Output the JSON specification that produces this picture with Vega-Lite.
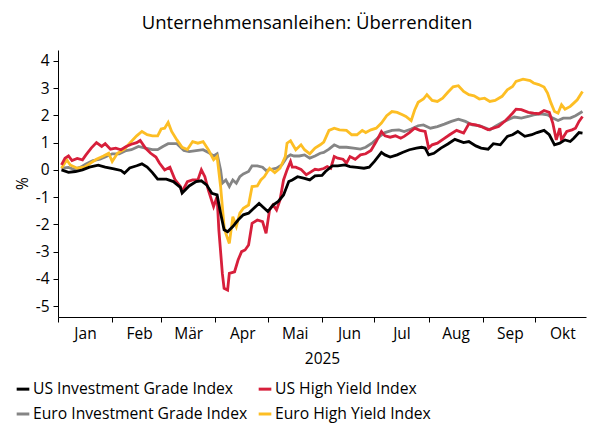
{
  "$schema": "https://vega.github.io/schema/vega-lite/v6.json",
  "width": 528,
  "height": 267,
  "autosize": {"type": "none"},
  "padding": {"left": 58, "top": 50, "right": 4, "bottom": 106},
  "background": "white",
  "title": {"text": "Unternehmensanleihen: Überrenditen", "font": "Open Sans", "fontSize": 18.5, "fontWeight": "normal", "color": "#000", "anchor": "middle", "frame": "group", "dx": -15, "offset": 18},
  "config": {
    "view": {"stroke": null},
    "font": "Open Sans",
    "axis": {"domainColor": "#000", "tickColor": "#000", "labelColor": "#000", "titleColor": "#000", "grid": false, "labelFont": "Open Sans", "titleFont": "Open Sans", "labelFontSize": 15.5, "titleFontSize": 15.5, "titleFontWeight": "normal", "domainWidth": 1, "tickWidth": 1, "tickSize": 5},
    "legend": {"labelFont": "Open Sans", "labelFontSize": 15.7, "labelColor": "#000", "labelLimit": 400}
  },
  "data": {"values": [
    {"s":"US Investment Grade Index","d":"2025-01-03","v":0.0},{"s":"US Investment Grade Index","d":"2025-01-07","v":-0.09},{"s":"US Investment Grade Index","d":"2025-01-11","v":-0.06},{"s":"US Investment Grade Index","d":"2025-01-15","v":0.0},{"s":"US Investment Grade Index","d":"2025-01-19","v":0.1},{"s":"US Investment Grade Index","d":"2025-01-24","v":0.17},{"s":"US Investment Grade Index","d":"2025-01-28","v":0.1},{"s":"US Investment Grade Index","d":"2025-02-02","v":0.04},{"s":"US Investment Grade Index","d":"2025-02-06","v":-0.02},{"s":"US Investment Grade Index","d":"2025-02-08","v":-0.12},{"s":"US Investment Grade Index","d":"2025-02-11","v":0.07},{"s":"US Investment Grade Index","d":"2025-02-15","v":0.15},{"s":"US Investment Grade Index","d":"2025-02-18","v":0.22},{"s":"US Investment Grade Index","d":"2025-02-21","v":0.1},{"s":"US Investment Grade Index","d":"2025-02-24","v":-0.1},{"s":"US Investment Grade Index","d":"2025-02-27","v":-0.34},{"s":"US Investment Grade Index","d":"2025-03-04","v":-0.34},{"s":"US Investment Grade Index","d":"2025-03-08","v":-0.43},{"s":"US Investment Grade Index","d":"2025-03-12","v":-0.64},{"s":"US Investment Grade Index","d":"2025-03-13","v":-0.85},{"s":"US Investment Grade Index","d":"2025-03-17","v":-0.59},{"s":"US Investment Grade Index","d":"2025-03-21","v":-0.43},{"s":"US Investment Grade Index","d":"2025-03-24","v":-0.4},{"s":"US Investment Grade Index","d":"2025-03-27","v":-0.55},{"s":"US Investment Grade Index","d":"2025-03-30","v":-0.86},{"s":"US Investment Grade Index","d":"2025-04-02","v":-0.92},{"s":"US Investment Grade Index","d":"2025-04-04","v":-1.59},{"s":"US Investment Grade Index","d":"2025-04-06","v":-2.2},{"s":"US Investment Grade Index","d":"2025-04-08","v":-2.27},{"s":"US Investment Grade Index","d":"2025-04-11","v":-2.08},{"s":"US Investment Grade Index","d":"2025-04-14","v":-1.84},{"s":"US Investment Grade Index","d":"2025-04-17","v":-1.65},{"s":"US Investment Grade Index","d":"2025-04-20","v":-1.59},{"s":"US Investment Grade Index","d":"2025-04-23","v":-1.41},{"s":"US Investment Grade Index","d":"2025-04-26","v":-1.23},{"s":"US Investment Grade Index","d":"2025-04-29","v":-1.41},{"s":"US Investment Grade Index","d":"2025-05-01","v":-1.53},{"s":"US Investment Grade Index","d":"2025-05-04","v":-1.29},{"s":"US Investment Grade Index","d":"2025-05-07","v":-1.16},{"s":"US Investment Grade Index","d":"2025-05-10","v":-0.92},{"s":"US Investment Grade Index","d":"2025-05-13","v":-0.43},{"s":"US Investment Grade Index","d":"2025-05-15","v":-0.37},{"s":"US Investment Grade Index","d":"2025-05-18","v":-0.25},{"s":"US Investment Grade Index","d":"2025-05-22","v":-0.31},{"s":"US Investment Grade Index","d":"2025-05-25","v":-0.37},{"s":"US Investment Grade Index","d":"2025-05-28","v":-0.22},{"s":"US Investment Grade Index","d":"2025-06-01","v":-0.2},{"s":"US Investment Grade Index","d":"2025-06-03","v":-0.06},{"s":"US Investment Grade Index","d":"2025-06-07","v":0.15},{"s":"US Investment Grade Index","d":"2025-06-10","v":0.15},{"s":"US Investment Grade Index","d":"2025-06-14","v":0.18},{"s":"US Investment Grade Index","d":"2025-06-17","v":0.12},{"s":"US Investment Grade Index","d":"2025-06-21","v":0.09},{"s":"US Investment Grade Index","d":"2025-06-25","v":0.06},{"s":"US Investment Grade Index","d":"2025-06-28","v":0.1},{"s":"US Investment Grade Index","d":"2025-07-01","v":0.31},{"s":"US Investment Grade Index","d":"2025-07-05","v":0.64},{"s":"US Investment Grade Index","d":"2025-07-07","v":0.55},{"s":"US Investment Grade Index","d":"2025-07-10","v":0.47},{"s":"US Investment Grade Index","d":"2025-07-14","v":0.55},{"s":"US Investment Grade Index","d":"2025-07-17","v":0.64},{"s":"US Investment Grade Index","d":"2025-07-21","v":0.74},{"s":"US Investment Grade Index","d":"2025-07-25","v":0.8},{"s":"US Investment Grade Index","d":"2025-07-28","v":0.83},{"s":"US Investment Grade Index","d":"2025-07-30","v":0.8},{"s":"US Investment Grade Index","d":"2025-08-01","v":0.55},{"s":"US Investment Grade Index","d":"2025-08-04","v":0.61},{"s":"US Investment Grade Index","d":"2025-08-08","v":0.8},{"s":"US Investment Grade Index","d":"2025-08-12","v":0.95},{"s":"US Investment Grade Index","d":"2025-08-16","v":1.12},{"s":"US Investment Grade Index","d":"2025-08-21","v":1.0},{"s":"US Investment Grade Index","d":"2025-08-24","v":1.04},{"s":"US Investment Grade Index","d":"2025-08-28","v":0.88},{"s":"US Investment Grade Index","d":"2025-08-31","v":0.8},{"s":"US Investment Grade Index","d":"2025-09-04","v":0.76},{"s":"US Investment Grade Index","d":"2025-09-07","v":0.96},{"s":"US Investment Grade Index","d":"2025-09-11","v":0.92},{"s":"US Investment Grade Index","d":"2025-09-15","v":1.23},{"s":"US Investment Grade Index","d":"2025-09-18","v":1.29},{"s":"US Investment Grade Index","d":"2025-09-21","v":1.41},{"s":"US Investment Grade Index","d":"2025-09-25","v":1.23},{"s":"US Investment Grade Index","d":"2025-09-29","v":1.29},{"s":"US Investment Grade Index","d":"2025-10-02","v":1.37},{"s":"US Investment Grade Index","d":"2025-10-06","v":1.45},{"s":"US Investment Grade Index","d":"2025-10-09","v":1.29},{"s":"US Investment Grade Index","d":"2025-10-12","v":0.92},{"s":"US Investment Grade Index","d":"2025-10-15","v":0.98},{"s":"US Investment Grade Index","d":"2025-10-18","v":1.1},{"s":"US Investment Grade Index","d":"2025-10-21","v":1.04},{"s":"US Investment Grade Index","d":"2025-10-23","v":1.16},{"s":"US Investment Grade Index","d":"2025-10-26","v":1.37},{"s":"US Investment Grade Index","d":"2025-10-28","v":1.35},

    {"s":"US High Yield Index","d":"2025-01-03","v":0.18},{"s":"US High Yield Index","d":"2025-01-05","v":0.43},{"s":"US High Yield Index","d":"2025-01-07","v":0.51},{"s":"US High Yield Index","d":"2025-01-09","v":0.34},{"s":"US High Yield Index","d":"2025-01-12","v":0.42},{"s":"US High Yield Index","d":"2025-01-15","v":0.37},{"s":"US High Yield Index","d":"2025-01-17","v":0.55},{"s":"US High Yield Index","d":"2025-01-20","v":0.8},{"s":"US High Yield Index","d":"2025-01-23","v":1.0},{"s":"US High Yield Index","d":"2025-01-26","v":0.86},{"s":"US High Yield Index","d":"2025-01-28","v":0.96},{"s":"US High Yield Index","d":"2025-01-31","v":0.76},{"s":"US High Yield Index","d":"2025-02-03","v":0.8},{"s":"US High Yield Index","d":"2025-02-06","v":0.74},{"s":"US High Yield Index","d":"2025-02-09","v":0.86},{"s":"US High Yield Index","d":"2025-02-12","v":0.94},{"s":"US High Yield Index","d":"2025-02-15","v":1.0},{"s":"US High Yield Index","d":"2025-02-17","v":1.08},{"s":"US High Yield Index","d":"2025-02-20","v":0.8},{"s":"US High Yield Index","d":"2025-02-23","v":0.61},{"s":"US High Yield Index","d":"2025-02-26","v":0.47},{"s":"US High Yield Index","d":"2025-02-28","v":0.25},{"s":"US High Yield Index","d":"2025-03-03","v":0.0},{"s":"US High Yield Index","d":"2025-03-06","v":0.1},{"s":"US High Yield Index","d":"2025-03-09","v":-0.37},{"s":"US High Yield Index","d":"2025-03-12","v":-0.61},{"s":"US High Yield Index","d":"2025-03-13","v":-0.8},{"s":"US High Yield Index","d":"2025-03-16","v":-0.43},{"s":"US High Yield Index","d":"2025-03-19","v":-0.37},{"s":"US High Yield Index","d":"2025-03-22","v":-0.37},{"s":"US High Yield Index","d":"2025-03-24","v":0.0},{"s":"US High Yield Index","d":"2025-03-26","v":-0.25},{"s":"US High Yield Index","d":"2025-03-28","v":-0.74},{"s":"US High Yield Index","d":"2025-03-31","v":-1.35},{"s":"US High Yield Index","d":"2025-04-02","v":-0.98},{"s":"US High Yield Index","d":"2025-04-03","v":-2.2},{"s":"US High Yield Index","d":"2025-04-05","v":-3.8},{"s":"US High Yield Index","d":"2025-04-06","v":-4.35},{"s":"US High Yield Index","d":"2025-04-08","v":-4.41},{"s":"US High Yield Index","d":"2025-04-09","v":-3.8},{"s":"US High Yield Index","d":"2025-04-12","v":-3.74},{"s":"US High Yield Index","d":"2025-04-14","v":-3.31},{"s":"US High Yield Index","d":"2025-04-16","v":-3.0},{"s":"US High Yield Index","d":"2025-04-18","v":-2.94},{"s":"US High Yield Index","d":"2025-04-20","v":-2.76},{"s":"US High Yield Index","d":"2025-04-22","v":-1.96},{"s":"US High Yield Index","d":"2025-04-25","v":-1.84},{"s":"US High Yield Index","d":"2025-04-28","v":-1.9},{"s":"US High Yield Index","d":"2025-04-30","v":-2.33},{"s":"US High Yield Index","d":"2025-05-02","v":-1.47},{"s":"US High Yield Index","d":"2025-05-04","v":-1.29},{"s":"US High Yield Index","d":"2025-05-06","v":-1.47},{"s":"US High Yield Index","d":"2025-05-08","v":-1.1},{"s":"US High Yield Index","d":"2025-05-10","v":-0.37},{"s":"US High Yield Index","d":"2025-05-12","v":0.0},{"s":"US High Yield Index","d":"2025-05-14","v":0.31},{"s":"US High Yield Index","d":"2025-05-15","v":0.1},{"s":"US High Yield Index","d":"2025-05-17","v":0.1},{"s":"US High Yield Index","d":"2025-05-20","v":0.02},{"s":"US High Yield Index","d":"2025-05-23","v":-0.18},{"s":"US High Yield Index","d":"2025-05-25","v":-0.1},{"s":"US High Yield Index","d":"2025-05-28","v":0.02},{"s":"US High Yield Index","d":"2025-05-30","v":0.0},{"s":"US High Yield Index","d":"2025-06-02","v":0.05},{"s":"US High Yield Index","d":"2025-06-04","v":0.12},{"s":"US High Yield Index","d":"2025-06-06","v":0.06},{"s":"US High Yield Index","d":"2025-06-08","v":0.49},{"s":"US High Yield Index","d":"2025-06-10","v":0.43},{"s":"US High Yield Index","d":"2025-06-13","v":0.39},{"s":"US High Yield Index","d":"2025-06-15","v":0.25},{"s":"US High Yield Index","d":"2025-06-17","v":0.49},{"s":"US High Yield Index","d":"2025-06-20","v":0.39},{"s":"US High Yield Index","d":"2025-06-23","v":0.55},{"s":"US High Yield Index","d":"2025-06-26","v":0.59},{"s":"US High Yield Index","d":"2025-06-29","v":0.71},{"s":"US High Yield Index","d":"2025-07-02","v":1.04},{"s":"US High Yield Index","d":"2025-07-05","v":1.41},{"s":"US High Yield Index","d":"2025-07-07","v":1.25},{"s":"US High Yield Index","d":"2025-07-10","v":1.2},{"s":"US High Yield Index","d":"2025-07-13","v":1.25},{"s":"US High Yield Index","d":"2025-07-16","v":1.16},{"s":"US High Yield Index","d":"2025-07-18","v":1.23},{"s":"US High Yield Index","d":"2025-07-21","v":1.37},{"s":"US High Yield Index","d":"2025-07-24","v":1.53},{"s":"US High Yield Index","d":"2025-07-27","v":1.45},{"s":"US High Yield Index","d":"2025-07-30","v":1.41},{"s":"US High Yield Index","d":"2025-08-01","v":0.8},{"s":"US High Yield Index","d":"2025-08-03","v":0.92},{"s":"US High Yield Index","d":"2025-08-06","v":0.98},{"s":"US High Yield Index","d":"2025-08-10","v":1.16},{"s":"US High Yield Index","d":"2025-08-13","v":1.29},{"s":"US High Yield Index","d":"2025-08-17","v":1.45},{"s":"US High Yield Index","d":"2025-08-21","v":1.35},{"s":"US High Yield Index","d":"2025-08-24","v":1.69},{"s":"US High Yield Index","d":"2025-08-28","v":1.65},{"s":"US High Yield Index","d":"2025-08-31","v":1.59},{"s":"US High Yield Index","d":"2025-09-04","v":1.47},{"s":"US High Yield Index","d":"2025-09-07","v":1.53},{"s":"US High Yield Index","d":"2025-09-10","v":1.59},{"s":"US High Yield Index","d":"2025-09-14","v":1.81},{"s":"US High Yield Index","d":"2025-09-18","v":2.08},{"s":"US High Yield Index","d":"2025-09-20","v":2.23},{"s":"US High Yield Index","d":"2025-09-23","v":2.21},{"s":"US High Yield Index","d":"2025-09-27","v":2.11},{"s":"US High Yield Index","d":"2025-09-30","v":2.08},{"s":"US High Yield Index","d":"2025-10-03","v":2.06},{"s":"US High Yield Index","d":"2025-10-06","v":2.18},{"s":"US High Yield Index","d":"2025-10-09","v":2.11},{"s":"US High Yield Index","d":"2025-10-11","v":1.72},{"s":"US High Yield Index","d":"2025-10-13","v":1.1},{"s":"US High Yield Index","d":"2025-10-15","v":1.53},{"s":"US High Yield Index","d":"2025-10-16","v":1.1},{"s":"US High Yield Index","d":"2025-10-19","v":1.41},{"s":"US High Yield Index","d":"2025-10-22","v":1.47},{"s":"US High Yield Index","d":"2025-10-24","v":1.53},{"s":"US High Yield Index","d":"2025-10-26","v":1.78},{"s":"US High Yield Index","d":"2025-10-28","v":1.96},

    {"s":"Euro Investment Grade Index","d":"2025-01-03","v":0.06},{"s":"Euro Investment Grade Index","d":"2025-01-07","v":0.09},{"s":"Euro Investment Grade Index","d":"2025-01-10","v":0.02},{"s":"Euro Investment Grade Index","d":"2025-01-14","v":0.1},{"s":"Euro Investment Grade Index","d":"2025-01-17","v":0.22},{"s":"Euro Investment Grade Index","d":"2025-01-21","v":0.34},{"s":"Euro Investment Grade Index","d":"2025-01-25","v":0.39},{"s":"Euro Investment Grade Index","d":"2025-01-28","v":0.47},{"s":"Euro Investment Grade Index","d":"2025-02-01","v":0.59},{"s":"Euro Investment Grade Index","d":"2025-02-05","v":0.59},{"s":"Euro Investment Grade Index","d":"2025-02-09","v":0.71},{"s":"Euro Investment Grade Index","d":"2025-02-12","v":0.74},{"s":"Euro Investment Grade Index","d":"2025-02-16","v":0.86},{"s":"Euro Investment Grade Index","d":"2025-02-20","v":0.8},{"s":"Euro Investment Grade Index","d":"2025-02-24","v":0.74},{"s":"Euro Investment Grade Index","d":"2025-02-27","v":0.74},{"s":"Euro Investment Grade Index","d":"2025-03-02","v":0.86},{"s":"Euro Investment Grade Index","d":"2025-03-05","v":0.96},{"s":"Euro Investment Grade Index","d":"2025-03-10","v":0.96},{"s":"Euro Investment Grade Index","d":"2025-03-14","v":0.71},{"s":"Euro Investment Grade Index","d":"2025-03-17","v":0.67},{"s":"Euro Investment Grade Index","d":"2025-03-21","v":0.71},{"s":"Euro Investment Grade Index","d":"2025-03-25","v":0.74},{"s":"Euro Investment Grade Index","d":"2025-03-28","v":0.64},{"s":"Euro Investment Grade Index","d":"2025-03-31","v":0.51},{"s":"Euro Investment Grade Index","d":"2025-04-02","v":0.59},{"s":"Euro Investment Grade Index","d":"2025-04-04","v":0.0},{"s":"Euro Investment Grade Index","d":"2025-04-05","v":-0.49},{"s":"Euro Investment Grade Index","d":"2025-04-07","v":-0.37},{"s":"Euro Investment Grade Index","d":"2025-04-09","v":-0.61},{"s":"Euro Investment Grade Index","d":"2025-04-11","v":-0.37},{"s":"Euro Investment Grade Index","d":"2025-04-13","v":-0.49},{"s":"Euro Investment Grade Index","d":"2025-04-15","v":-0.25},{"s":"Euro Investment Grade Index","d":"2025-04-17","v":-0.15},{"s":"Euro Investment Grade Index","d":"2025-04-20","v":-0.06},{"s":"Euro Investment Grade Index","d":"2025-04-22","v":0.15},{"s":"Euro Investment Grade Index","d":"2025-04-25","v":0.15},{"s":"Euro Investment Grade Index","d":"2025-04-28","v":0.1},{"s":"Euro Investment Grade Index","d":"2025-04-30","v":-0.02},{"s":"Euro Investment Grade Index","d":"2025-05-03","v":0.02},{"s":"Euro Investment Grade Index","d":"2025-05-06","v":0.06},{"s":"Euro Investment Grade Index","d":"2025-05-09","v":0.18},{"s":"Euro Investment Grade Index","d":"2025-05-12","v":0.47},{"s":"Euro Investment Grade Index","d":"2025-05-14","v":0.55},{"s":"Euro Investment Grade Index","d":"2025-05-16","v":0.51},{"s":"Euro Investment Grade Index","d":"2025-05-19","v":0.51},{"s":"Euro Investment Grade Index","d":"2025-05-22","v":0.55},{"s":"Euro Investment Grade Index","d":"2025-05-25","v":0.43},{"s":"Euro Investment Grade Index","d":"2025-05-28","v":0.51},{"s":"Euro Investment Grade Index","d":"2025-05-31","v":0.61},{"s":"Euro Investment Grade Index","d":"2025-06-02","v":0.64},{"s":"Euro Investment Grade Index","d":"2025-06-05","v":0.76},{"s":"Euro Investment Grade Index","d":"2025-06-08","v":0.92},{"s":"Euro Investment Grade Index","d":"2025-06-11","v":0.83},{"s":"Euro Investment Grade Index","d":"2025-06-15","v":0.83},{"s":"Euro Investment Grade Index","d":"2025-06-19","v":0.8},{"s":"Euro Investment Grade Index","d":"2025-06-23","v":0.76},{"s":"Euro Investment Grade Index","d":"2025-06-26","v":0.83},{"s":"Euro Investment Grade Index","d":"2025-06-30","v":1.0},{"s":"Euro Investment Grade Index","d":"2025-07-04","v":1.23},{"s":"Euro Investment Grade Index","d":"2025-07-07","v":1.37},{"s":"Euro Investment Grade Index","d":"2025-07-11","v":1.45},{"s":"Euro Investment Grade Index","d":"2025-07-15","v":1.47},{"s":"Euro Investment Grade Index","d":"2025-07-18","v":1.41},{"s":"Euro Investment Grade Index","d":"2025-07-22","v":1.5},{"s":"Euro Investment Grade Index","d":"2025-07-26","v":1.62},{"s":"Euro Investment Grade Index","d":"2025-07-29","v":1.65},{"s":"Euro Investment Grade Index","d":"2025-08-02","v":1.53},{"s":"Euro Investment Grade Index","d":"2025-08-06","v":1.59},{"s":"Euro Investment Grade Index","d":"2025-08-10","v":1.68},{"s":"Euro Investment Grade Index","d":"2025-08-14","v":1.78},{"s":"Euro Investment Grade Index","d":"2025-08-18","v":1.86},{"s":"Euro Investment Grade Index","d":"2025-08-22","v":1.78},{"s":"Euro Investment Grade Index","d":"2025-08-26","v":1.65},{"s":"Euro Investment Grade Index","d":"2025-08-30","v":1.62},{"s":"Euro Investment Grade Index","d":"2025-09-03","v":1.53},{"s":"Euro Investment Grade Index","d":"2025-09-05","v":1.47},{"s":"Euro Investment Grade Index","d":"2025-09-08","v":1.59},{"s":"Euro Investment Grade Index","d":"2025-09-12","v":1.74},{"s":"Euro Investment Grade Index","d":"2025-09-16","v":1.86},{"s":"Euro Investment Grade Index","d":"2025-09-19","v":1.94},{"s":"Euro Investment Grade Index","d":"2025-09-23","v":1.9},{"s":"Euro Investment Grade Index","d":"2025-09-27","v":1.96},{"s":"Euro Investment Grade Index","d":"2025-09-30","v":2.02},{"s":"Euro Investment Grade Index","d":"2025-10-04","v":2.06},{"s":"Euro Investment Grade Index","d":"2025-10-08","v":2.02},{"s":"Euro Investment Grade Index","d":"2025-10-11","v":1.9},{"s":"Euro Investment Grade Index","d":"2025-10-14","v":1.81},{"s":"Euro Investment Grade Index","d":"2025-10-17","v":1.9},{"s":"Euro Investment Grade Index","d":"2025-10-21","v":1.9},{"s":"Euro Investment Grade Index","d":"2025-10-24","v":1.99},{"s":"Euro Investment Grade Index","d":"2025-10-28","v":2.14},

    {"s":"Euro High Yield Index","d":"2025-01-03","v":0.06},{"s":"Euro High Yield Index","d":"2025-01-06","v":0.37},{"s":"Euro High Yield Index","d":"2025-01-08","v":0.18},{"s":"Euro High Yield Index","d":"2025-01-12","v":0.06},{"s":"Euro High Yield Index","d":"2025-01-16","v":0.1},{"s":"Euro High Yield Index","d":"2025-01-19","v":0.22},{"s":"Euro High Yield Index","d":"2025-01-23","v":0.39},{"s":"Euro High Yield Index","d":"2025-01-27","v":0.51},{"s":"Euro High Yield Index","d":"2025-01-30","v":0.61},{"s":"Euro High Yield Index","d":"2025-02-01","v":0.31},{"s":"Euro High Yield Index","d":"2025-02-04","v":0.61},{"s":"Euro High Yield Index","d":"2025-02-08","v":0.76},{"s":"Euro High Yield Index","d":"2025-02-11","v":0.98},{"s":"Euro High Yield Index","d":"2025-02-15","v":1.25},{"s":"Euro High Yield Index","d":"2025-02-18","v":1.41},{"s":"Euro High Yield Index","d":"2025-02-21","v":1.29},{"s":"Euro High Yield Index","d":"2025-02-24","v":1.25},{"s":"Euro High Yield Index","d":"2025-02-27","v":1.25},{"s":"Euro High Yield Index","d":"2025-03-01","v":1.5},{"s":"Euro High Yield Index","d":"2025-03-03","v":1.53},{"s":"Euro High Yield Index","d":"2025-03-05","v":1.74},{"s":"Euro High Yield Index","d":"2025-03-07","v":1.41},{"s":"Euro High Yield Index","d":"2025-03-10","v":1.1},{"s":"Euro High Yield Index","d":"2025-03-13","v":0.83},{"s":"Euro High Yield Index","d":"2025-03-16","v":0.75},{"s":"Euro High Yield Index","d":"2025-03-19","v":1.04},{"s":"Euro High Yield Index","d":"2025-03-22","v":0.98},{"s":"Euro High Yield Index","d":"2025-03-25","v":1.04},{"s":"Euro High Yield Index","d":"2025-03-28","v":0.74},{"s":"Euro High Yield Index","d":"2025-03-31","v":0.37},{"s":"Euro High Yield Index","d":"2025-04-02","v":0.49},{"s":"Euro High Yield Index","d":"2025-04-04","v":-0.61},{"s":"Euro High Yield Index","d":"2025-04-06","v":-2.08},{"s":"Euro High Yield Index","d":"2025-04-07","v":-2.33},{"s":"Euro High Yield Index","d":"2025-04-09","v":-2.7},{"s":"Euro High Yield Index","d":"2025-04-11","v":-1.72},{"s":"Euro High Yield Index","d":"2025-04-13","v":-2.08},{"s":"Euro High Yield Index","d":"2025-04-15","v":-1.59},{"s":"Euro High Yield Index","d":"2025-04-17","v":-1.41},{"s":"Euro High Yield Index","d":"2025-04-20","v":-1.29},{"s":"Euro High Yield Index","d":"2025-04-22","v":-0.61},{"s":"Euro High Yield Index","d":"2025-04-25","v":-0.59},{"s":"Euro High Yield Index","d":"2025-04-27","v":-0.37},{"s":"Euro High Yield Index","d":"2025-04-29","v":-0.25},{"s":"Euro High Yield Index","d":"2025-05-02","v":0.06},{"s":"Euro High Yield Index","d":"2025-05-05","v":-0.1},{"s":"Euro High Yield Index","d":"2025-05-08","v":0.06},{"s":"Euro High Yield Index","d":"2025-05-11","v":0.49},{"s":"Euro High Yield Index","d":"2025-05-12","v":0.98},{"s":"Euro High Yield Index","d":"2025-05-14","v":1.07},{"s":"Euro High Yield Index","d":"2025-05-17","v":0.74},{"s":"Euro High Yield Index","d":"2025-05-20","v":0.92},{"s":"Euro High Yield Index","d":"2025-05-22","v":0.74},{"s":"Euro High Yield Index","d":"2025-05-25","v":0.59},{"s":"Euro High Yield Index","d":"2025-05-28","v":0.8},{"s":"Euro High Yield Index","d":"2025-05-31","v":0.92},{"s":"Euro High Yield Index","d":"2025-06-02","v":1.02},{"s":"Euro High Yield Index","d":"2025-06-05","v":1.45},{"s":"Euro High Yield Index","d":"2025-06-08","v":1.53},{"s":"Euro High Yield Index","d":"2025-06-11","v":1.47},{"s":"Euro High Yield Index","d":"2025-06-15","v":1.45},{"s":"Euro High Yield Index","d":"2025-06-18","v":1.29},{"s":"Euro High Yield Index","d":"2025-06-21","v":1.29},{"s":"Euro High Yield Index","d":"2025-06-24","v":1.45},{"s":"Euro High Yield Index","d":"2025-06-26","v":1.37},{"s":"Euro High Yield Index","d":"2025-06-29","v":1.47},{"s":"Euro High Yield Index","d":"2025-07-02","v":1.53},{"s":"Euro High Yield Index","d":"2025-07-05","v":1.72},{"s":"Euro High Yield Index","d":"2025-07-08","v":1.99},{"s":"Euro High Yield Index","d":"2025-07-11","v":2.14},{"s":"Euro High Yield Index","d":"2025-07-14","v":2.11},{"s":"Euro High Yield Index","d":"2025-07-17","v":2.02},{"s":"Euro High Yield Index","d":"2025-07-19","v":1.96},{"s":"Euro High Yield Index","d":"2025-07-22","v":1.81},{"s":"Euro High Yield Index","d":"2025-07-24","v":2.2},{"s":"Euro High Yield Index","d":"2025-07-26","v":2.48},{"s":"Euro High Yield Index","d":"2025-07-29","v":2.6},{"s":"Euro High Yield Index","d":"2025-07-31","v":2.76},{"s":"Euro High Yield Index","d":"2025-08-03","v":2.55},{"s":"Euro High Yield Index","d":"2025-08-06","v":2.51},{"s":"Euro High Yield Index","d":"2025-08-09","v":2.63},{"s":"Euro High Yield Index","d":"2025-08-12","v":2.85},{"s":"Euro High Yield Index","d":"2025-08-15","v":3.05},{"s":"Euro High Yield Index","d":"2025-08-18","v":3.09},{"s":"Euro High Yield Index","d":"2025-08-21","v":2.88},{"s":"Euro High Yield Index","d":"2025-08-24","v":2.76},{"s":"Euro High Yield Index","d":"2025-08-27","v":2.72},{"s":"Euro High Yield Index","d":"2025-08-30","v":2.6},{"s":"Euro High Yield Index","d":"2025-09-02","v":2.63},{"s":"Euro High Yield Index","d":"2025-09-05","v":2.51},{"s":"Euro High Yield Index","d":"2025-09-08","v":2.55},{"s":"Euro High Yield Index","d":"2025-09-12","v":2.7},{"s":"Euro High Yield Index","d":"2025-09-15","v":2.94},{"s":"Euro High Yield Index","d":"2025-09-18","v":3.06},{"s":"Euro High Yield Index","d":"2025-09-20","v":3.25},{"s":"Euro High Yield Index","d":"2025-09-24","v":3.33},{"s":"Euro High Yield Index","d":"2025-09-28","v":3.28},{"s":"Euro High Yield Index","d":"2025-09-30","v":3.19},{"s":"Euro High Yield Index","d":"2025-10-03","v":3.13},{"s":"Euro High Yield Index","d":"2025-10-06","v":3.04},{"s":"Euro High Yield Index","d":"2025-10-08","v":2.82},{"s":"Euro High Yield Index","d":"2025-10-10","v":2.45},{"s":"Euro High Yield Index","d":"2025-10-12","v":2.14},{"s":"Euro High Yield Index","d":"2025-10-14","v":2.08},{"s":"Euro High Yield Index","d":"2025-10-16","v":2.39},{"s":"Euro High Yield Index","d":"2025-10-18","v":2.23},{"s":"Euro High Yield Index","d":"2025-10-21","v":2.33},{"s":"Euro High Yield Index","d":"2025-10-23","v":2.45},{"s":"Euro High Yield Index","d":"2025-10-25","v":2.57},{"s":"Euro High Yield Index","d":"2025-10-28","v":2.88}
  ]},
  "encoding": {
    "x": {"field": "d", "type": "temporal",
      "scale": {"type": "utc", "domain": [{"year": 2025, "month": 1, "date": 1, "utc": true}, {"year": 2025, "month": 10, "date": 30, "utc": true}]},
      "axis": {"title": "2025", "tickCount": {"interval": "month", "step": 1}, "labelExpr": "['Jan','Feb','Mär','Apr','Mai','Jun','Jul','Aug','Sep','Okt','Nov','Dez'][utcmonth(datum.value)]", "labelOffset": 27, "labelPadding": 4, "labelFlush": false, "labelOverlap": false, "titleY": 46, "titleBaseline": "alphabetic"}},
    "y": {"field": "v", "type": "quantitative",
      "scale": {"domain": [-5.4, 4.4], "nice": false, "zero": false},
      "axis": {"title": "%", "values": [-5, -4, -3, -2, -1, 0, 1, 2, 3, 4], "labelExpr": "datum.value < 0 ? '-' + abs(datum.value) : '' + datum.value", "labelPadding": 4, "titleX": -36, "titleY": 133, "titleAngle": 270, "titleBaseline": "middle", "titleAlign": "center"}},
    "color": {"field": "s", "type": "nominal",
      "scale": {"domain": ["US Investment Grade Index", "US High Yield Index", "Euro Investment Grade Index", "Euro High Yield Index"], "range": ["#000000", "#d71f3b", "#858585", "#fdbe24"]},
      "legend": {"title": null, "orient": "none", "direction": "horizontal", "legendX": -43, "legendY": 331, "padding": 0, "columns": 2, "symbolType": "stroke", "symbolStrokeWidth": 3, "symbolSize": 160, "labelOffset": 2, "columnPadding": 4, "rowPadding": 9, "labelLimit": 400}}
  },
  "layer": [
    {"data": {"values": [{}]}, "mark": {"type": "rule", "color": "#000", "strokeWidth": 1}, "encoding": {"x": null, "color": null, "y": {"datum": 0}}},
    {"transform": [{"filter": "datum.s === 'Euro Investment Grade Index'"}], "mark": {"type": "line", "strokeWidth": 2.8}},
    {"transform": [{"filter": "datum.s === 'Euro High Yield Index'"}], "mark": {"type": "line", "strokeWidth": 2.8}},
    {"transform": [{"filter": "datum.s === 'US High Yield Index'"}], "mark": {"type": "line", "strokeWidth": 2.8}},
    {"transform": [{"filter": "datum.s === 'US Investment Grade Index'"}], "mark": {"type": "line", "strokeWidth": 2.8}}
  ]
}
